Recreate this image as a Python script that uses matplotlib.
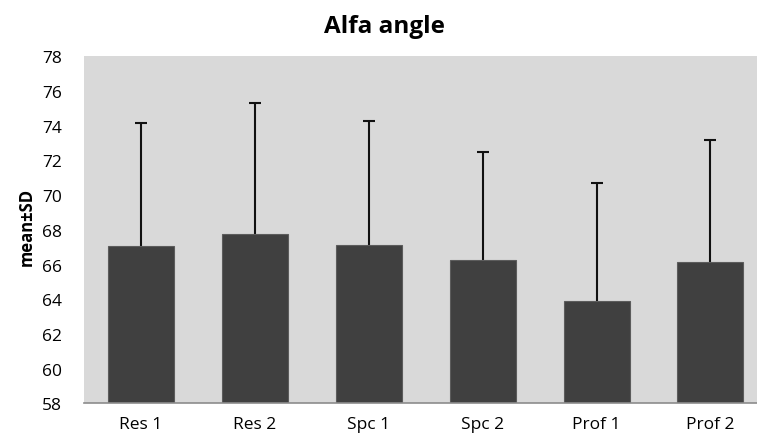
import matplotlib
matplotlib.use("Agg")
import matplotlib.pyplot as plt
import numpy as np

categories = ["Res 1", "Res 2", "Spc 1", "Spc 2", "Prof 1", "Prof 2"]
means = [67.06, 67.73, 67.15, 66.25, 63.9, 66.15]
sds = [7.1, 7.6, 7.1, 6.25, 6.8, 7.03]
yticks = [58, 60, 62, 64, 66, 68, 70, 72, 74, 76, 78]

plt.rcParams['font.family'] = ['Open Sans', 'DejaVu Sans']

W, H = 757, 435
fig = plt.figure(figsize=(W / 100, H / 100), dpi=100)
left, right, top, bottom = 84, 757, 57.3, 404.3
ax = fig.add_axes([left / W, 1 - bottom / H, (right - left) / W, (bottom - top) / H])
ax.set_facecolor("#d9d9d9")

x = np.arange(len(categories))
ax.bar(x, means, width=0.58, color="#404040", edgecolor="#5c5c5c", linewidth=0.8, zorder=2)
_, caplines, _ = ax.errorbar(x, means, yerr=[np.zeros(len(sds)), sds], fmt="none",
                             ecolor="#111111", elinewidth=1.5, capsize=4.5,
                             capthick=1.5, zorder=1.5)
for cl in caplines:
    if np.allclose(np.asarray(cl.get_ydata(), dtype=float), means):
        cl.set_visible(False)

cat_w = 113.9
ax.set_xlim(-0.5, -0.5 + (right - left) / cat_w)
ax.set_ylim(58, 78)
ax.set_yticks(yticks)
ax.set_yticklabels([str(t) for t in yticks], fontsize=12.5)
ax.set_xticks(x)
ax.set_xticklabels(categories, fontsize=12.5)
ax.tick_params(axis="both", length=0)
ax.tick_params(axis="y", pad=16)
ax.tick_params(axis="x", pad=9)
for s in ["top", "right", "left"]:
    ax.spines[s].set_visible(False)
ax.spines["bottom"].set_color("#8c8c8c")
ax.spines["bottom"].set_linewidth(1.2)

ax.set_ylabel("mean±SD", fontsize=12, fontweight="bold")
ax.yaxis.set_label_coords(-(84 - 36) / (right - left), 0.51)

fig.text(384 / W, 1 - 27 / H, "Alfa angle", ha="center", va="center",
         fontsize=17.5, fontweight="bold")

fig.savefig("out.png", dpi=100)
